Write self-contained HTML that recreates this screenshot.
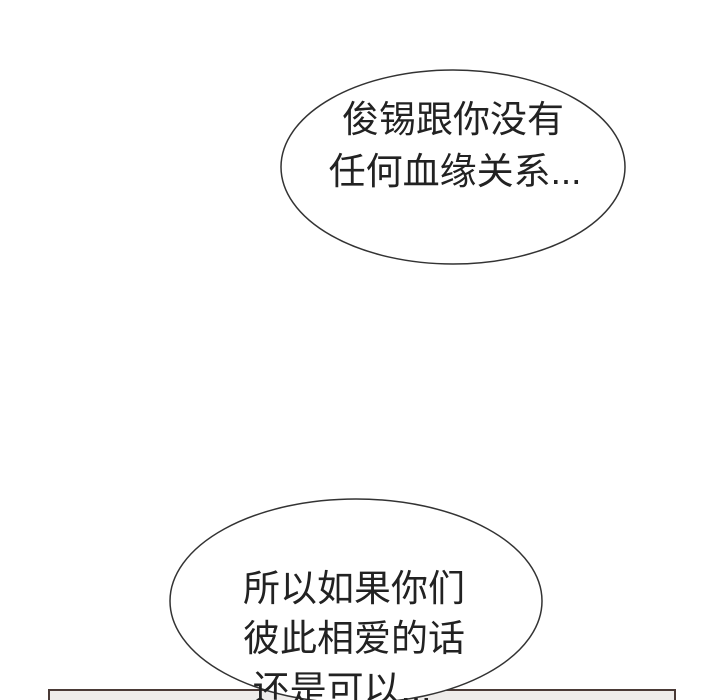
<!DOCTYPE html>
<html><head><meta charset="utf-8"><style>
body{margin:0;width:720px;height:700px;background:#fff;overflow:hidden;position:relative}
</style></head><body>
<svg width="720" height="700" style="position:absolute;left:0;top:0">
<rect x="49" y="690" width="626" height="20" fill="#eeecea" stroke="#4a3a36" stroke-width="2"/>
<ellipse cx="453" cy="167" rx="172" ry="97" fill="#fff" stroke="#333" stroke-width="1.5"/>
<ellipse cx="356" cy="601" rx="186" ry="102" fill="#fff" stroke="#333" stroke-width="1.5"/>
<g font-family="'Liberation Sans','Noto Sans CJK SC',sans-serif" font-size="37" fill="#222" text-anchor="middle">
<text x="453" y="132">俊锡跟你没有</text>
<text x="455" y="184">任何血缘关系...</text>
<text x="354" y="601">所以如果你们</text>
<text x="354" y="651">彼此相爱的话</text>
<text x="342" y="702">还是可以...</text>
</g>
</svg>
</body></html>
